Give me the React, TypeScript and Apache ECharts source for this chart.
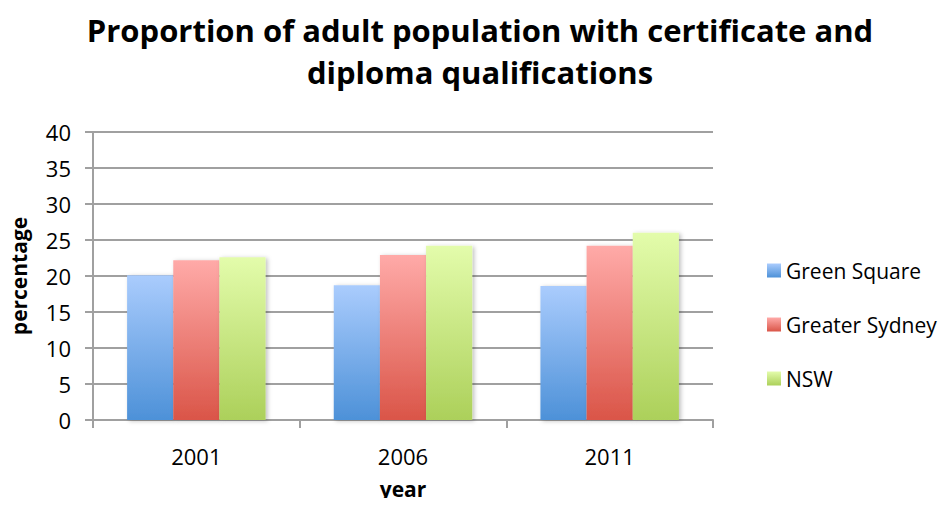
import React, { useEffect, useRef } from "react";
import * as echarts from "echarts";

const categories = ["2001", "2006", "2011"];
const greenSquare = [20.1, 18.7, 18.6];
const greaterSydney = [22.2, 22.9, 24.2];
const nsw = [22.6, 24.2, 26.0];
const seriesNames = ["Green Square", "Greater Sydney", "NSW"];

const grad = (top: string, bottom: string) =>
  new echarts.graphic.LinearGradient(0, 0, 0, 1, [
    { offset: 0, color: top },
    { offset: 1, color: bottom },
  ]);

export default function App() {
  const ref = useRef<HTMLDivElement>(null);
  useEffect(() => {
    if (!ref.current) return;
    const chart = echarts.init(ref.current, null, { renderer: "svg" });
    const font = "'Open Sans', sans-serif";
    const mk = (name: string, data: number[], top: string, bottom: string) => ({
      name,
      type: "bar",
      data,
      barGap: "0%",
      barCategoryGap: "33%",
      itemStyle: {
        color: grad(top, bottom),
        shadowColor: "rgba(0,0,0,0.25)",
        shadowBlur: 4,
        shadowOffsetX: 2,
        shadowOffsetY: 1,
      },
    });
    chart.setOption({
      animation: false,
      backgroundColor: "#ffffff",
      title: {
        text: "Proportion of adult population with certificate and\ndiploma qualifications",
        left: 475,
        textAlign: "center",
        top: 4,
        textStyle: {
          fontFamily: font,
          fontWeight: "bold",
          fontSize: 31,
          lineHeight: 42,
          color: "#000",
        },
      },
      legend: {
        orient: "vertical",
        left: 762,
        top: 255,
        itemWidth: 14,
        itemHeight: 14,
        itemGap: 33,
        itemStyle: { borderWidth: 0 },
        icon: "rect",
        textStyle: { fontFamily: font, fontSize: 21, color: "#000", padding: [0, 0, 0, 0] },
        data: seriesNames,
      },
      grid: {
        left: 93,
        right: 239,
        top: 132,
        bottom: 86,
        containLabel: false,
        outerBoundsMode: "none",
      },
      xAxis: {
        type: "category",
        data: categories,
        name: "year",
        nameLocation: "middle",
        nameGap: 58,
        nameTextStyle: { fontFamily: font, fontWeight: "bold", fontSize: 21, color: "#000" },
        axisLine: { lineStyle: { color: "#a0a0a0", width: 2 } },
        axisTick: { show: true, length: 8, lineStyle: { color: "#a0a0a0", width: 2 } },
        axisLabel: { fontFamily: font, fontSize: 22, color: "#000", margin: 25 },
      },
      yAxis: {
        type: "value",
        min: 0,
        max: 40,
        interval: 5,
        name: "percentage",
        nameLocation: "middle",
        nameGap: 64,
        nameTextStyle: { fontFamily: font, fontWeight: "bold", fontSize: 21, color: "#000" },
        axisLine: { show: true, lineStyle: { color: "#a0a0a0", width: 2 } },
        axisTick: { show: true, length: 8, lineStyle: { color: "#a0a0a0", width: 2 } },
        axisLabel: { fontFamily: font, fontSize: 22, color: "#000", margin: 22 },
        splitLine: { lineStyle: { color: "#a0a0a0", width: 2 } },
      },
      series: [
        mk(seriesNames[0], greenSquare, "#aaccfd", "#4d91d8"),
        mk(seriesNames[1], greaterSydney, "#ffaaa8", "#da5548"),
        mk(seriesNames[2], nsw, "#e3fcab", "#acd05a"),
      ],
    });
    return () => chart.dispose();
  }, []);
  return <div ref={ref} style={{ width: 952, height: 506, margin: -8 }} />;
}
